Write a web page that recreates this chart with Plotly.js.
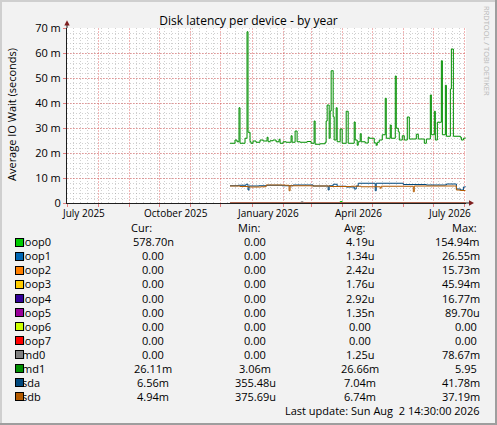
<!DOCTYPE html>
<html>
<head>
<meta charset="utf-8">
<script src="https://cdn.plot.ly/plotly-3.0.1.min.js"></script>
<style>
body { margin: 0; background: #f2f2f2; }
#chart { width: 497px; height: 425px; }
</style>
</head>
<body>
<div id="chart"></div>
<script>
// --- data (values in milliseconds of IO wait) ---
let names = ['loop0', 'loop1', 'loop2', 'loop3', 'loop4', 'loop5', 'loop6', 'loop7', 'md0', 'md1', 'sda', 'sdb'];
let colors = ['#00CC00', '#0066B3', '#FF8000', '#FFCC00', '#330099', '#990099', '#CCFF00', '#FF0000', '#808080', '#008F00', '#00487D', '#B35A00'];

let cur_values = ['578.70n', '0.00', '0.00', '0.00', '0.00', '0.00', '0.00', '0.00', '0.00', '26.11m', '6.56m', '4.94m'];
let min_values = ['0.00', '0.00', '0.00', '0.00', '0.00', '0.00', '0.00', '0.00', '0.00', '3.06m', '355.48u', '375.69u'];
let avg_values = ['4.19u', '1.34u', '2.42u', '1.76u', '2.92u', '1.35n', '0.00', '0.00', '1.25u', '26.66m', '7.04m', '6.74m'];
let max_values = ['154.94m', '26.55m', '15.73m', '45.94m', '16.77m', '89.70u', '0.00', '0.00', '78.67m', '5.95', '41.78m', '37.19m'];

let month_labels = ['July 2025', 'October 2025', 'January 2026', 'April 2026', 'July 2026'];
let month_label_dates = ['2025-07-17', '2025-10-17', '2026-01-17', '2026-04-17', '2026-07-17'];

let y_tick_vals = [0, 10, 20, 30, 40, 50, 60, 70];
let y_tick_text = ['0', '10 m', '20 m', '30 m', '40 m', '50 m', '60 m', '70 m'];

let md1_dates = [
	'2025-12-10', '2025-12-15', '2025-12-17', '2025-12-19', '2025-12-20', '2025-12-25', '2025-12-27', '2025-12-28', '2025-12-30', '2025-12-31',
	'2026-01-02', '2026-01-05', '2026-01-09', '2026-01-12', '2026-01-16', '2026-01-17', '2026-01-19', '2026-01-22', '2026-01-25', '2026-01-28', '2026-01-29',
	'2026-02-01', '2026-02-04', '2026-02-09', '2026-02-10', '2026-02-13', '2026-02-15', '2026-02-18', '2026-02-25',
	'2026-03-01', '2026-03-04', '2026-03-05', '2026-03-10', '2026-03-15', '2026-03-16', '2026-03-17', '2026-03-19', '2026-03-20', '2026-03-21', '2026-03-23', '2026-03-24', '2026-03-26', '2026-03-27', '2026-03-30',
	'2026-04-01', '2026-04-05', '2026-04-07', '2026-04-13', '2026-04-14', '2026-04-16', '2026-04-17', '2026-04-19', '2026-04-20', '2026-04-24', '2026-04-27', '2026-04-28',
	'2026-05-03', '2026-05-05', '2026-05-06', '2026-05-08', '2026-05-11', '2026-05-14', '2026-05-15', '2026-05-19', '2026-05-20', '2026-05-24', '2026-05-25', '2026-05-27', '2026-05-28', '2026-05-31',
	'2026-06-02', '2026-06-05', '2026-06-07', '2026-06-14', '2026-06-16', '2026-06-22', '2026-06-24', '2026-06-28', '2026-06-29',
	'2026-07-02', '2026-07-03', '2026-07-05', '2026-07-09', '2026-07-10', '2026-07-13', '2026-07-14', '2026-07-18', '2026-07-19', '2026-07-21', '2026-07-28', '2026-07-29', '2026-07-31',
	'2026-08-02'
];
let md1_values = [
	23.9, 25.2, 24.5, 38.1, 23.9, 25.9, 68.5, 28.3, 24.5, 23.9,
	24.8, 24.3, 25.2, 24.8, 26.3, 24.5, 24.9, 25.2, 24.5, 25.5, 23.9,
	24.5, 24.3, 26.9, 24.3, 28.8, 24.5, 24.3, 24.6,
	23.9, 32.8, 23.5, 23.7, 24.3, 32.8, 39.2, 25.9, 36.8, 52.9, 34.5, 25.2, 38.1, 24.5, 29.6,
	23.9, 36.7, 23.9, 32.4, 25.2, 23.1, 24.5, 27.7, 24.5, 24.0, 26.3, 25.9,
	24.0, 23.1, 24.3, 25.2, 27.3, 41.9, 25.9, 31.2, 25.9, 50.8, 29.9, 28.5, 25.2, 26.9,
	25.2, 34.4, 25.6, 27.5, 25.6, 23.9, 25.6, 43.2, 27.3,
	36.7, 25.2, 32.3, 56.9, 27.3, 47.1, 26.7, 45.6, 61.6, 26.7, 26.3, 25.2, 25.9,
	26.11
];

let sda_dates = [
	'2025-12-10', '2025-12-18', '2025-12-26', '2025-12-28', '2025-12-29', '2026-01-08', '2026-01-16', '2026-01-31',
	'2026-02-11', '2026-03-03', '2026-03-18', '2026-03-19', '2026-03-23', '2026-03-27', '2026-04-05', '2026-04-13', '2026-04-15',
	'2026-04-17', '2026-05-04', '2026-05-05', '2026-06-01', '2026-06-24', '2026-07-14', '2026-07-24', '2026-07-28', '2026-07-31', '2026-08-02'
];
let sda_values = [
	6.9, 7.1, 7.5, 5.2, 6.8, 6.9, 7.1, 6.9,
	7.2, 6.8, 5.2, 6.9, 7.5, 6.7, 6.4, 5.6, 6.8,
	7.9, 4.9, 7.9, 7.4, 7.2, 7.6, 5.6, 5.2, 6.4, 6.56
];

let sdb_dates = [
	'2025-12-10', '2025-12-20', '2025-12-28', '2026-01-10', '2026-01-15', '2026-02-03', '2026-02-07', '2026-02-08',
	'2026-03-01', '2026-03-20', '2026-04-10', '2026-04-20', '2026-05-09', '2026-05-10', '2026-06-11', '2026-06-12',
	'2026-07-22', '2026-07-24', '2026-07-28', '2026-08-02'
];
let sdb_values = [
	6.8, 6.6, 6.4, 6.5, 7.2, 7.1, 4.9, 6.9,
	6.8, 6.6, 6.7, 6.5, 5.9, 6.7, 4.5, 6.8,
	6.8, 5.2, 5.0, 4.94
];

let loop0_dates = ['2025-12-10', '2026-03-30', '2026-04-01', '2026-08-02'];
let loop0_values = [0, 0.6, 0, 0];
let md0_dates = ['2025-12-10', '2026-02-19', '2026-02-21', '2026-08-02'];
let md0_values = [0, 0.5, 0, 0];
let idle_dates = ['2025-12-10', '2026-08-02'];
let idle_values = [0, 0];

// --- geometry helpers (pixel -> paper) ---
const W = 497, H = 425;
const plot_left = 67, plot_right = 466, plot_top = 28, plot_bottom = 203;
function px(x) { return (x - plot_left) / (plot_right - plot_left); }
function py(y) { return (plot_bottom - y) / (plot_bottom - plot_top); }

const font_family = '"Open Sans", "Noto Sans", sans-serif';
const grid_minor = 'rgba(143,143,143,0.42)';
const grid_major = 'rgba(222,79,79,0.42)';
const tick_major = 'rgba(222,79,79,0.7)';

function series(i, dates, values) {
	return {
		x: dates,
		y: values,
		type: 'scatter',
		mode: 'lines',
		line: {color: colors[i], width: 1, shape: 'hv'},
		name: names[i],
		hoverinfo: 'skip'
	};
}

let traces = [
	series(0, loop0_dates, loop0_values),
	series(1, idle_dates, idle_values),
	series(2, idle_dates, idle_values),
	series(3, idle_dates, idle_values),
	series(4, idle_dates, idle_values),
	series(5, idle_dates, idle_values),
	series(6, idle_dates, idle_values),
	series(7, idle_dates, idle_values),
	series(8, md0_dates, md0_values),
	series(9, md1_dates, md1_values),
	series(10, sda_dates, sda_values),
	series(11, sdb_dates, sdb_values)
];

let annotations = [];

function text_at(x, y, text, anchor, size, color) {
	annotations.push({
		xref: 'paper', yref: 'paper', x: px(x), y: py(y),
		text: text, showarrow: false, borderpad: 0,
		xanchor: anchor, yanchor: 'middle',
		font: {family: font_family, size: size, color: color || '#000'}
	});
}

// month labels on the time axis
for (let i = 0; i < month_labels.length; i++) {
	annotations.push({
		xref: 'x', yref: 'paper', x: month_label_dates[i], y: py(213),
		text: month_labels[i], showarrow: false, borderpad: 0,
		xanchor: 'center', yanchor: 'middle',
		font: {family: font_family, size: 10, color: '#000'}
	});
}

// y axis title
annotations.push({
	xref: 'paper', yref: 'paper', x: px(11), y: py(115),
	text: 'Average IO Wait (seconds)', textangle: -90, showarrow: false,
	xanchor: 'center', yanchor: 'middle',
	font: {family: font_family, size: 11, color: '#000'}
});

// watermark
annotations.push({
	xref: 'paper', yref: 'paper', x: px(487), y: py(51),
	text: 'RRDTOOL / TOBI OETIKER', textangle: 90, showarrow: false,
	xanchor: 'center', yanchor: 'middle',
	font: {family: font_family, size: 7.5, color: '#b8b8b8'}
});

// legend table
text_at(130, 227, 'Cur:', 'left', 11);
text_at(237, 227, 'Min:', 'left', 11);
text_at(343, 227, 'Avg:', 'left', 11);
text_at(451, 227, 'Max:', 'left', 11);

const row_top = 241.8, row_step = 14.05;
for (let i = 0; i < names.length; i++) {
	let y = row_top + i * row_step;
	text_at(20.5, y, names[i], 'left', 11);
	text_at(153, y, cur_values[i], 'center', 11);
	text_at(255, y, min_values[i], 'center', 11);
	text_at(360, y, avg_values[i], 'center', 11);
	let has_unit = /[a-z]$/.test(max_values[i]);
	text_at(has_unit ? 481 : 478, y, max_values[i], 'right', 11);
}
// colour boxes drawn over the first letter, like rrdtool does
for (let i = 0; i < names.length; i++) {
	annotations.push({
		xref: 'paper', yref: 'paper', x: px(19.5), y: py(row_top + i * row_step + 0.5),
		text: ' ', showarrow: false, xanchor: 'center', yanchor: 'middle',
		width: 7, height: 7, borderpad: 0, borderwidth: 1,
		bgcolor: colors[i], bordercolor: '#000',
		font: {size: 4}
	});
}

text_at(481, 410, 'Last update: Sun Aug\u00a0 2 14:30:00 2026', 'right', 11);

// frame, axis extensions and arrows
let shapes = [
	{type: 'line', xref: 'paper', yref: 'paper', x0: px(0), x1: px(W), y0: py(1), y1: py(1), line: {color: '#cfcfcf', width: 2}},
	{type: 'line', xref: 'paper', yref: 'paper', x0: px(1), x1: px(1), y0: py(0), y1: py(H), line: {color: '#cfcfcf', width: 2}},
	{type: 'line', xref: 'paper', yref: 'paper', x0: px(0), x1: px(W), y0: py(H - 1), y1: py(H - 1), line: {color: '#9e9e9e', width: 2}},
	{type: 'line', xref: 'paper', yref: 'paper', x0: px(W - 1), x1: px(W - 1), y0: py(0), y1: py(H), line: {color: '#9e9e9e', width: 2}},
	{type: 'line', xref: 'paper', yref: 'paper', x0: px(plot_right), x1: px(469.5), y0: 0, y1: 0, line: {color: '#1f1f1f', width: 1}},
	{type: 'line', xref: 'paper', yref: 'paper', x0: 0, x1: 0, y0: 1, y1: py(24.5), line: {color: '#1f1f1f', width: 1}},
	{type: 'path', xref: 'paper', yref: 'paper',
		path: 'M' + px(469) + ',' + py(200.3) + ' L' + px(474) + ',' + py(203) + ' L' + px(469) + ',' + py(205.7) + ' Z',
		fillcolor: '#7f1f1f', line: {width: 0}},
	{type: 'path', xref: 'paper', yref: 'paper',
		path: 'M' + px(64.3) + ',' + py(25.5) + ' L' + px(67) + ',' + py(20.3) + ' L' + px(69.7) + ',' + py(25.5) + ' Z',
		fillcolor: '#7f1f1f', line: {width: 0}}
];

let layout = {
	width: W,
	height: H,
	margin: {l: plot_left, r: W - plot_right, t: plot_top, b: H - plot_bottom},
	paper_bgcolor: '#f2f2f2',
	plot_bgcolor: '#ffffff',
	showlegend: false,
	title: {
		text: 'Disk latency per device - by year',
		font: {family: font_family, size: 12, color: '#000'},
		x: 0.5, xref: 'container', xanchor: 'center',
		y: 1 - 21 / H, yref: 'container', yanchor: 'middle'
	},
	xaxis: {
		type: 'date',
		range: ['2025-06-30 07:00', '2026-08-02 14:30'],
		tick0: '2025-07-01', dtick: 'M1',
		showticklabels: false,
		ticks: 'outside', ticklen: 3, tickcolor: tick_major,
		showgrid: true, gridcolor: grid_major, griddash: '2px,1px', gridwidth: 1,
		minor: {tick0: '2025-06-30', dtick: 7 * 86400000, showgrid: true, gridcolor: grid_minor, griddash: '1px,2px', gridwidth: 1},
		showline: true, linecolor: '#1f1f1f', linewidth: 1,
		zeroline: false, fixedrange: true
	},
	yaxis: {
		range: [0, 70],
		tickmode: 'array', tickvals: y_tick_vals, ticktext: y_tick_text,
		tickfont: {family: font_family, size: 11, color: '#000'},
		ticks: 'outside', ticklen: 3, tickcolor: tick_major,
		showgrid: true, gridcolor: grid_major, griddash: '2px,1px', gridwidth: 1,
		minor: {tick0: 0, dtick: 2, showgrid: true, gridcolor: grid_minor, griddash: '1px,2px', gridwidth: 1},
		showline: true, linecolor: '#1f1f1f', linewidth: 1,
		zeroline: false, fixedrange: true
	},
	annotations: annotations,
	shapes: shapes
};

Plotly.newPlot('chart', traces, layout, {staticPlot: true, displayModeBar: false});
</script>
</body>
</html>
